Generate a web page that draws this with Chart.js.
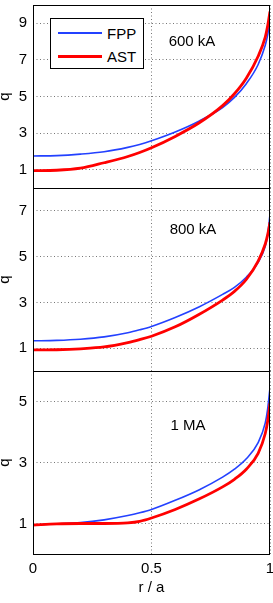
<!DOCTYPE html>
<html>
<head>
<meta charset="utf-8">
<script src="https://cdn.jsdelivr.net/npm/chart.js@4/dist/chart.umd.min.js"></script>
<style>
    body { margin: 0; background: #fff; font-family: 'Liberation Sans', Arial, Helvetica, sans-serif; }
    #wrap { position: relative; width: 273px; height: 603px; overflow: hidden; }
    #wrap canvas { position: absolute; left: 0; }
    .note { position: absolute; font-size: 15px; color: #000; transform: translate(-50%, -50%); white-space: nowrap; z-index: 2; }
    #legend { position: absolute; left: 50px; top: 18px; width: 92px; height: 49px; border: 1px solid #000; background: #fff; z-index: 2; }
    .row { position: absolute; left: 0; height: 22px; display: flex; align-items: center; font-size: 15px; }
    .row span.sample { display: inline-block; width: 44px; margin-left: 7px; margin-right: 5px; }
</style>
</head>
<body>
<div id="wrap">
    <canvas id="c1" width="273" height="190" style="top:0px"></canvas>
    <canvas id="c2" width="273" height="190" style="top:183px"></canvas>
    <canvas id="c3" width="273" height="237" style="top:366px"></canvas>
    <div id="legend"></div>
    <div class="note" style="left:192px; top:40px">600 kA</div>
    <div class="note" style="left:193px; top:228px">800 kA</div>
    <div class="note" style="left:188px; top:424px">1 MA</div>
</div>
<script>
// normalised radius r/a
const r = [0, 0.1, 0.2, 0.3, 0.4, 0.45, 0.5, 0.6, 0.7, 0.8, 0.85, 0.9, 0.95, 0.98, 0.99, 1.0];

// q profiles, 600 kA
const fpp600 = [1.75, 1.77, 1.85, 1.98, 2.22, 2.38, 2.58, 3.06, 3.65, 4.4, 4.95, 5.7, 6.75, 7.8, 8.35, 9.15];
const ast600 = [0.95, 0.97, 1.08, 1.38, 1.72, 1.94, 2.2, 2.82, 3.55, 4.5, 5.15, 6.0, 7.2, 8.25, 8.85, 9.65];

// q profiles, 800 kA
const fpp800 = [1.32, 1.34, 1.39, 1.49, 1.67, 1.8, 1.95, 2.34, 2.8, 3.35, 3.66, 4.1, 4.75, 5.45, 5.95, 6.85];
const ast800 = [0.92, 0.93, 0.97, 1.05, 1.24, 1.37, 1.52, 1.93, 2.47, 3.1, 3.48, 4.0, 4.8, 5.55, 5.95, 6.5];

// q profiles, 1 MA
const fpp1MA = [0.95, 0.99, 1.03, 1.12, 1.26, 1.35, 1.46, 1.76, 2.1, 2.52, 2.78, 3.12, 3.65, 4.3, 4.75, 5.45];
const ast1MA = [0.95, 0.99, 1.0, 1.0, 1.02, 1.07, 1.18, 1.46, 1.8, 2.2, 2.45, 2.78, 3.3, 3.95, 4.35, 4.95];

// tick labels
const xTicks = [0, 0.5, 1];
const yTicks600 = [1, 3, 5, 7, 9];
const yTicks800 = [1, 3, 5, 7];
const yTicks1MA = [1, 3, 5];

const seriesNames = ['FPP', 'AST'];

const FONT = "'Liberation Sans', Arial, Helvetica, sans-serif";
const BLUE = 'rgb(35, 65, 255)';
const RED = 'rgb(255, 0, 0)';

Chart.defaults.font.family = FONT;
Chart.defaults.font.size = 15;
Chart.defaults.color = '#000';

/**
 * Draw the black box round the plot area
 */
const framePlugin = {
    id: 'frame',
    afterDatasetsDraw(chart) {
        const a = chart.chartArea;
        const ctx = chart.ctx;
        ctx.save();
        ctx.strokeStyle = '#000';
        ctx.lineWidth = 1;
        ctx.strokeRect(Math.round(a.left) + 0.5, Math.round(a.top) + 0.5,
            Math.round(a.right - a.left) - 1, Math.round(a.bottom - a.top));
        ctx.restore();
    }
};

function toPoints(vals) {
    return r.map((x, i) => ({ x: x, y: vals[i] }));
}

// no automatic padding for tick labels: the plot area is fixed
function noPad(s) {
    s.paddingLeft = 0;
    s.paddingRight = 0;
    s.paddingTop = 0;
    s.paddingBottom = 0;
}

/**
 * Create one q(r) panel
 */
function createPanel(canvasId, fpp, ast, yMax, yTicks, showX) {
    const ctx = document.getElementById(canvasId).getContext('2d');
    return new Chart(ctx, {
        type: 'line',
        data: {
            datasets: [
                {
                    label: seriesNames[0],
                    data: toPoints(fpp),
                    borderColor: BLUE,
                    borderWidth: 1.6,
                    pointRadius: 0,
                    cubicInterpolationMode: 'monotone',
                    order: 2
                },
                {
                    label: seriesNames[1],
                    data: toPoints(ast),
                    borderColor: RED,
                    borderWidth: 2.8,
                    pointRadius: 0,
                    cubicInterpolationMode: 'monotone',
                    order: 1
                }
            ]
        },
        options: {
            responsive: false,
            animation: false,
            devicePixelRatio: 1,
            layout: {
                autoPadding: false,
                padding: { top: 5, right: 3, bottom: showX ? 0 : 2, left: 0 }
            },
            plugins: { legend: { display: false }, tooltip: { enabled: false } },
            scales: {
                x: {
                    type: 'linear',
                    min: 0,
                    max: 1,
                    afterBuildTicks: (s) => { s.ticks = xTicks.map(v => ({ value: v })); },
                    afterFit: (s) => { s.height = showX ? 49 : 0; noPad(s); },
                    ticks: {
                        display: showX,
                        padding: 6,
                        maxRotation: 0,
                        callback: (v) => String(v)
                    },
                    grid: { color: '#777', drawTicks: false },
                    border: { display: false, dash: [1, 2.5] },
                    title: {
                        display: showX,
                        text: 'r / a',
                        padding: { top: 0, bottom: 6 }
                    }
                },
                y: {
                    min: 0,
                    max: yMax,
                    afterBuildTicks: (s) => { s.ticks = yTicks.map(v => ({ value: v })); },
                    afterFit: (s) => { s.width = 33; noPad(s); },
                    ticks: { padding: 6 },
                    grid: { color: '#777', drawTicks: false },
                    border: { display: false, dash: [1, 2.5] },
                    title: {
                        display: true,
                        text: 'q',
                        font: { lineHeight: 0.6 },
                        padding: 0
                    }
                }
            }
        },
        plugins: [framePlugin]
    });
}

const chart600 = createPanel('c1', fpp600, ast600, 10, yTicks600, false);
const chart800 = createPanel('c2', fpp800, ast800, 8, yTicks800, false);
const chart1MA = createPanel('c3', fpp1MA, ast1MA, 6, yTicks1MA, true);

/**
 * Legend box built from the first panel's datasets
 */
function buildLegend(chart) {
    const box = document.getElementById('legend');
    chart.data.datasets.forEach((ds, i) => {
        const row = document.createElement('div');
        row.className = 'row';
        row.style.top = (3 + i * 23) + 'px';
        const sample = document.createElement('span');
        sample.className = 'sample';
        sample.style.height = Math.round(ds.borderWidth) + 'px';
        sample.style.background = ds.borderColor;
        row.appendChild(sample);
        row.appendChild(document.createTextNode(ds.label));
        box.appendChild(row);
    });
}

buildLegend(chart600);
</script>
</body>
</html>
